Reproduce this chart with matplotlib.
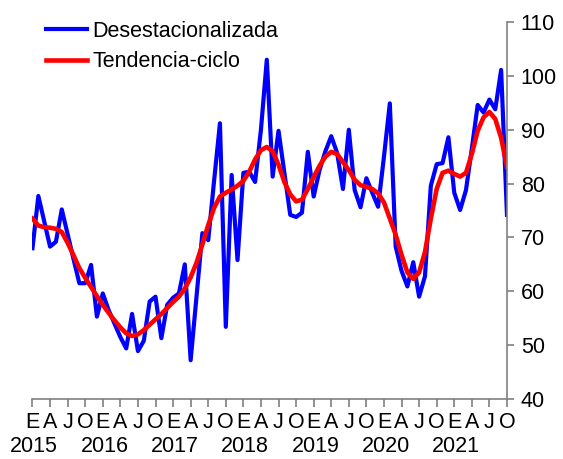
# -*- coding: utf-8 -*-

# serie mensual desestacionalizada y tendencia-ciclo, ene 2015 - oct 2021

import matplotlib
matplotlib.use("Agg")
import matplotlib.pyplot as plt
import numpy as np

plt.rcParams['font.family'] = ['Liberation Sans', 'DejaVu Sans']

years = ["2015", "2016", "2017", "2018", "2019", "2020", "2021"]
quarter_labels = ["E", "A", "J", "O"]

desestacionalizada = [
    68.0, 77.7, 73.0, 68.3, 69.2, 75.2, 70.6, 66.0, 61.5, 61.5, 64.9, 55.3,   # 2015
    59.6, 56.5, 54.0, 51.5, 49.4, 55.8, 48.9, 50.8, 58.1, 59.0, 51.3, 57.5,   # 2016
    58.8, 59.6, 65.0, 47.2, 59.0, 70.8, 69.5, 80.5, 91.2, 53.4, 81.6, 65.8,   # 2017
    82.0, 82.2, 80.3, 90.0, 103.0, 81.3, 89.8, 82.0, 74.2, 73.8, 74.6, 85.9,  # 2018
    77.6, 82.5, 86.0, 88.8, 85.7, 79.0, 90.0, 78.8, 75.6, 81.0, 78.3, 75.7,   # 2019
    85.0, 94.9, 68.3, 63.8, 60.9, 65.4, 59.0, 62.8, 79.6, 83.6, 83.8, 88.6,   # 2020
    78.3, 75.1, 78.8, 86.5, 94.6, 93.2, 95.6, 93.8, 101.1, 74.2,              # 2021
]

tendencia = [
    73.5, 72.2, 71.9, 71.8, 71.6, 71.0, 69.0, 66.7, 64.3, 62.5, 60.8, 59.1,
    57.5, 56.0, 54.6, 53.3, 52.2, 51.7, 52.0, 52.8, 53.8, 54.8, 55.8, 56.9,
    58.0, 59.0, 60.5, 62.6, 65.3, 68.7, 72.3, 75.5, 77.6, 78.3, 78.9, 79.6,
    80.5, 82.2, 84.5, 86.2, 86.8, 86.0, 83.5, 80.3, 78.0, 76.7, 77.0, 79.0,
    81.2, 83.3, 85.0, 85.9, 85.5, 84.0, 82.5, 80.7, 79.7, 79.4, 79.0, 78.2,
    76.5, 73.5, 70.5, 66.8, 63.5, 62.3, 63.5, 67.3, 73.5, 79.0, 82.0, 82.4,
    81.8, 81.3, 82.0, 85.5, 89.8, 92.3, 93.3, 92.0, 88.5, 83.1,
]

meses = np.arange(len(desestacionalizada))
fs = 15.5

fig = plt.figure(figsize=(5.63, 4.59), dpi=100)
ax = fig.add_axes([0.0577, 0.1307, 0.8428, 0.8213])

ax.plot(meses, desestacionalizada, color="#0000ff", lw=3.0, label="Desestacionalizada")
ax.plot(meses, tendencia, color="#ff0000", lw=3.3, label="Tendencia-ciclo")

ax.set_xlim(0, meses[-1])
ax.set_ylim(40, 110)

# eje y a la derecha
ax.yaxis.tick_right()
ax.set_yticks(np.arange(40, 111, 10))
ax.tick_params(axis="y", direction="out", length=5, width=1.2, color="#808080",
               labelsize=fs, pad=5)

# trimestres: E A J O
xt = np.arange(0, len(meses), 3)
ax.set_xticks(xt)
ax.set_xticklabels([quarter_labels[i % 4] for i in range(len(xt))])
ax.tick_params(axis="x", direction="out", length=6, width=1.2, color="#808080",
               labelsize=fs, pad=3)

for i, y in enumerate(years):
    ax.text(12 * i + 0.3, -0.126, y, transform=ax.get_xaxis_transform(),
            ha="center", va="center", fontsize=fs)

for s in ["top", "left"]:
    ax.spines[s].set_visible(False)
for s in ["right", "bottom"]:
    ax.spines[s].set_color("#808080")
    ax.spines[s].set_linewidth(1.2)

ax.legend(loc="upper left", bbox_to_anchor=(0.028, 1.004), frameon=False,
          fontsize=fs, handlelength=1.9, handletextpad=0.25, labelspacing=0.45,
          borderpad=0, borderaxespad=0)

fig.savefig("out.png", dpi=100)
